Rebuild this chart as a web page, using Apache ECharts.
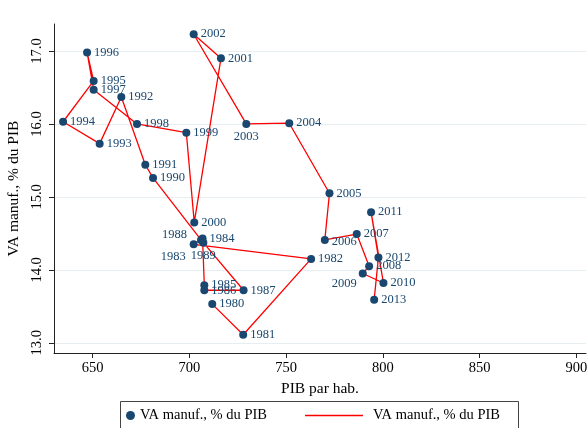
<!DOCTYPE html>
<html>
<head>
<meta charset="utf-8">
<script src="https://cdn.jsdelivr.net/npm/echarts@6/dist/echarts.min.js"></script>
<style>
html,body{margin:0;padding:0;background:#fff;}
#chart{width:588px;height:428px;}
</style>
</head>
<body>
<div id="chart"></div>
<script>
const years = [1980,1981,1982,1983,1984,1985,1986,1987,1988,1989,1990,1991,1992,1993,1994,1995,1996,1997,1998,1999,2000,2001,2002,2003,2004,2005,2006,2007,2008,2009,2010,2011,2012,2013];
const pibParHab = [711.8,727.8,762.9,702.2,706.8,707.7,707.7,728.0,706.0,707.2,681.2,677.2,664.8,653.6,634.7,650.5,647.1,650.5,672.9,698.4,702.5,716.3,702.2,729.4,751.6,772.4,770.0,786.5,792.9,789.6,800.3,793.9,797.7,795.5];
const vaManuf = [13.53,13.11,14.15,14.35,14.43,13.79,13.72,13.72,14.41,14.37,15.26,15.44,16.37,15.73,16.03,16.59,16.98,16.47,16.00,15.88,14.65,16.90,17.23,16.00,16.01,15.05,14.41,14.49,14.05,13.95,13.82,14.79,14.17,13.59];
const xTicks = [650,700,750,800,850,900];
const yTicks = [13,14,15,16,17];
const seriesName = 'VA manuf., % du PIB';

const FONT = "'Liberation Serif','Times New Roman',serif";
const NAVY = '#1a476f';

// label placement exceptions (style only)
const labelStyle = {
  1983: {position:'left', distance:4, offset:[0,12]},
  1988: {position:'left', distance:10, offset:[0,-5]},
  1989: {position:'bottom', distance:2},
  2003: {position:'bottom', distance:2},
  2009: {position:'left', distance:2, offset:[0,10]},
  2006: {position:'right', distance:3, offset:[0,2]}
};

const pts = years.map((y,i)=>{
  const d = {value:[pibParHab[i], vaManuf[i]], name:String(y)};
  if (labelStyle[y]) d.label = labelStyle[y];
  return d;
});
const linePts = years.map((y,i)=>[pibParHab[i], vaManuf[i]]);

const chart = echarts.init(document.getElementById('chart'), null, {renderer:'canvas'});
chart.setOption({
  animation:false,
  backgroundColor:'#fff',
  textStyle:{fontFamily:FONT},
  grid:{left:54, right:2, top:24, bottom:75, containLabel:false, outerBoundsMode:'none'},
  xAxis:{
    type:'value', min:630, max:905,
    name:'PIB par hab.', nameLocation:'middle', nameGap:22,
    nameTextStyle:{fontFamily:FONT, fontSize:15.5, color:'#000'},
    axisLine:{show:true, onZero:false, lineStyle:{color:'#222', width:1}},
    axisTick:{show:true, inside:false, length:5, customValues:xTicks, lineStyle:{color:'#222'}},
    axisLabel:{customValues:xTicks, fontFamily:FONT, fontSize:14.5, color:'#000', margin:8, hideOverlap:false},
    splitLine:{show:false}
  },
  yAxis:{
    type:'value', min:12.86, max:17.37,
    name:'VA manuf., % du PIB', nameLocation:'middle', nameGap:21, nameRotate:90,
    nameTextStyle:{fontFamily:FONT, fontSize:15.5, color:'#000'},
    axisLine:{show:true, onZero:false, lineStyle:{color:'#222', width:1}},
    axisTick:{show:true, inside:false, length:5, customValues:yTicks, lineStyle:{color:'#222'}},
    axisLabel:{customValues:yTicks, rotate:90, fontFamily:FONT, fontSize:14.5, color:'#000', margin:9,
      formatter:v=>v.toFixed(1)},
    splitLine:{show:true, lineStyle:{color:'#e6eef1', width:1}}
  },
  legend:[
    {data:[{name:'pts', icon:'circle'}], left:121, top:403, itemWidth:9, itemHeight:9,
     formatter:()=>seriesName, textStyle:{fontFamily:FONT, fontSize:14.5, color:'#000'}},
    {data:[{name:'line', icon:'rect'}], left:300, top:403, itemWidth:58, itemHeight:1.5,
     formatter:()=>seriesName, textStyle:{fontFamily:FONT, fontSize:14.5, color:'#000', padding:[0,0,0,5]}}
  ],
  graphic:[{type:'rect', shape:{x:120.5, y:401.5, width:398, height:40}, style:{fill:null, stroke:'#444', lineWidth:1}, silent:true}],
  series:[
    {name:'line', type:'line', data:linePts, showSymbol:false, symbol:'none',
     lineStyle:{color:'#ff0000', width:1.3}, itemStyle:{color:'#ff0000'}, z:2},
    {name:'pts', type:'scatter', data:pts, symbol:'circle', symbolSize:8,
     itemStyle:{color:NAVY, opacity:1}, z:3,
     label:{show:true, position:'right', distance:3, formatter:p=>p.name,
       fontFamily:FONT, fontSize:12.5, color:NAVY}}
  ]
});
</script>
</body>
</html>
